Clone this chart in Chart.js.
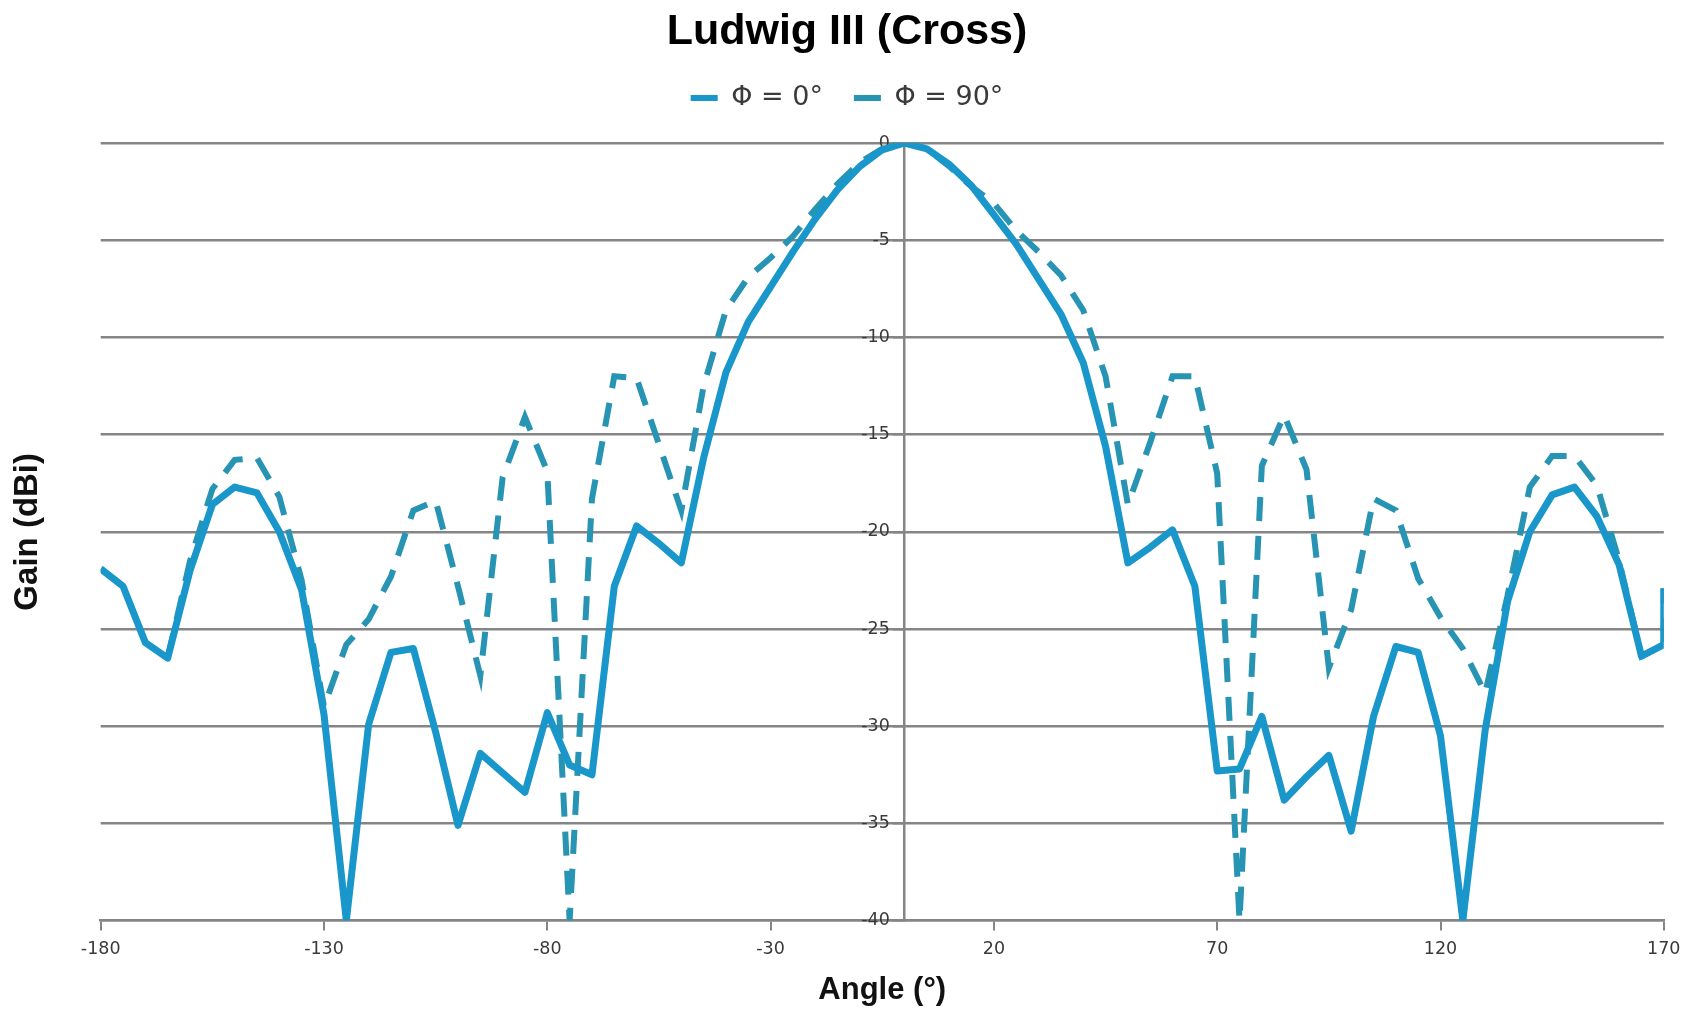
<!DOCTYPE html>
<html>
<head>
<meta charset="utf-8">
<script src="https://cdn.jsdelivr.net/npm/chart.js@4.4.1/dist/chart.umd.min.js"></script>
<style>
html,body{margin:0;padding:0;background:#ffffff;}
#wrap{position:relative;width:1694px;height:1010px;}
</style>
</head>
<body>
<div id="wrap"><canvas id="c" width="1694" height="1010"></canvas></div>
<script>
// ---- Data ----
const chartTitle = 'Ludwig III (Cross)';
const xAxisTitle = 'Angle (°)';
const yAxisTitle = 'Gain (dBi)';
const seriesNames = ['Φ = 0°', 'Φ = 90°'];

// Angle samples (deg). The last sample lies beyond the axis end and is drawn at the edge.
const angles = [
  -180, -175, -170, -165, -160, -155, -150, -145, -140, -135,
  -130, -125, -120, -115, -110, -105, -100, -95, -90, -85,
  -80, -75, -70, -65, -60, -55, -50, -45, -40, -35,
  -30, -25, -20, -15, -10, -5, 0, 5, 10, 15,
  20, 25, 30, 35, 40, 45, 50, 55, 60, 65,
  70, 75, 80, 85, 90, 95, 100, 105, 110, 115,
  120, 125, 130, 135, 140, 145, 150, 155, 160, 165,
  170, 175
];

const gainPhi0 = [
  -21.9, -22.8, -25.7, -26.5, -22.0, -18.6, -17.7, -18.0, -20.0, -23.0,
  -29.4, -40.0, -29.9, -26.2, -26.0, -30.3, -35.1, -31.4, -32.4, -33.4,
  -29.3, -32.0, -32.5, -22.8, -19.7, -20.6, -21.6, -16.2, -11.8, -9.2,
  -7.4, -5.6, -3.9, -2.4, -1.2, -0.35, 0.0, -0.3, -1.1, -2.2,
  -3.7, -5.2, -7.0, -8.8, -11.3, -15.6, -21.6, -20.8, -19.9, -22.8,
  -32.3, -32.2, -29.5, -33.8, -32.6, -31.5, -35.4, -29.5, -25.9, -26.2,
  -30.5, -40.0, -30.2, -23.6, -20.0, -18.1, -17.7, -19.2, -21.7, -26.4,
  -25.8, -22.9
];

const gainPhi90 = [
  -21.9, -22.8, -25.7, -26.5, -21.5, -17.8, -16.3, -16.2, -18.2, -22.5,
  -29.0, -25.8, -24.5, -22.3, -18.9, -18.4, -22.8, -27.4, -17.2, -14.1,
  -16.9, -40.0, -18.3, -12.0, -12.1, -15.5, -18.9, -12.5, -8.6, -6.9,
  -5.9, -4.8, -3.4, -2.1, -1.0, -0.3, 0.0, -0.3, -1.2, -2.25,
  -3.1, -4.5, -5.6, -6.8, -8.6, -12.0, -18.6, -15.4, -12.0, -12.0,
  -17.0, -40.0, -16.6, -14.0, -16.8, -27.0, -24.0, -18.3, -18.9, -22.4,
  -24.4, -26.0, -28.3, -23.3, -17.7, -16.1, -16.1, -17.6, -21.5, -26.4,
  -25.8, -22.9
];

const xTickValues = [-180, -130, -80, -30, 20, 70, 120, 170];
const yTickValues = [0, -5, -10, -15, -20, -25, -30, -35, -40];
const X_MIN = -180, X_MAX = 170, Y_MIN = -40, Y_MAX = 0;

// ---- Styling / layout ----
const colorPhi0 = '#1996ca';
const colorPhi90 = '#2894b3';
const gridColor = '#858585';
const tickColor = '#3a3a3a';
const sansBold = '"Liberation Sans", Arial, sans-serif';
const sansTick = '"DejaVu Sans", Verdana, sans-serif';
const Y_LABEL_ANCHOR = -3.3;     // y tick labels sit just left of the 0° axis line
const LEFT_AREA = 100.7, RIGHT_AREA = 30.2, TOP_GAP = 21.5;

// Out-of-range samples are drawn at the plot edge (as in the source chart)
const toPoints = vals => angles.map((a, i) => ({
  x: Math.min(Math.max(a, X_MIN), X_MAX),
  y: Math.min(Math.max(vals[i], Y_MIN), Y_MAX)
}));

const legendLabels = (chart) => {
  const items = Chart.defaults.plugins.legend.labels.generateLabels(chart);
  items.forEach(it => {
    const ds = chart.data.datasets[it.datasetIndex];
    it.fillStyle = ds.borderColor;
    it.strokeStyle = ds.borderColor;
    it.lineWidth = 0;
    it.lineDash = [];
  });
  items.sort((a, b) => a.datasetIndex - b.datasetIndex);
  return items;
};

const hiddenAxisBase = {
  type: 'linear',
  display: true,
  ticks: { display: false },
  grid: { display: false, drawTicks: false, drawOnChartArea: false },
  border: { display: false }
};

new Chart(document.getElementById('c'), {
  type: 'line',
  data: {
    datasets: [
      {
        label: seriesNames[0],
        data: toPoints(gainPhi0),
        borderColor: colorPhi0,
        backgroundColor: colorPhi0,
        borderWidth: 7,
        pointRadius: 0,
        tension: 0,
        fill: false,
        borderJoinStyle: 'round'
      },
      {
        label: seriesNames[1],
        data: toPoints(gainPhi90),
        borderColor: colorPhi90,
        backgroundColor: colorPhi90,
        borderWidth: 6,
        borderDash: [24, 15],
        pointRadius: 0,
        tension: 0,
        fill: false
      }
    ]
  },
  options: {
    responsive: false,
    animation: false,
    devicePixelRatio: 1,
    layout: { padding: 0 },
    plugins: {
      title: {
        display: true,
        text: chartTitle,
        color: '#000000',
        font: { family: sansBold, size: 43, weight: 'bold', lineHeight: 1 },
        padding: { top: 10.5, bottom: 0 }
      },
      legend: {
        display: true,
        position: 'top',
        labels: {
          font: { family: sansTick, size: 27 },
          color: '#3a3a3a',
          boxWidth: 27,
          boxHeight: 6,
          padding: 31,
          generateLabels: legendLabels
        }
      },
      tooltip: { enabled: false }
    },
    scales: {
      x: {
        type: 'linear',
        position: 'bottom',
        min: X_MIN,
        max: X_MAX,
        afterBuildTicks: s => { s.ticks = xTickValues.map(v => ({ value: v })); },
        ticks: {
          autoSkip: false,
          maxRotation: 0,
          color: tickColor,
          font: { family: sansTick, size: 17.5 },
          padding: 8.5
        },
        grid: {
          display: true,
          drawOnChartArea: false,
          drawTicks: true,
          tickLength: 10,
          color: gridColor,
          lineWidth: 2
        },
        border: { display: true, color: gridColor, width: 2.5 },
        title: {
          display: true,
          text: xAxisTitle,
          color: '#111111',
          font: { family: sansBold, size: 31, weight: 'bold' },
          padding: { top: 3.5, bottom: 0.7 }
        }
      },
      y: {
        type: 'linear',
        axis: 'y',
        position: { x: 0 },
        min: Y_MIN,
        max: Y_MAX,
        afterBuildTicks: s => { s.ticks = yTickValues.map(v => ({ value: v })); },
        ticks: { display: false },
        grid: {
          display: true,
          drawOnChartArea: true,
          drawTicks: true,
          tickLength: 10,
          color: gridColor,
          lineWidth: 2.5
        },
        border: { display: true, color: gridColor, width: 2.5 }
      },
      yLabels: {
        type: 'linear',
        axis: 'y',
        position: { x: Y_LABEL_ANCHOR },
        min: Y_MIN,
        max: Y_MAX,
        afterBuildTicks: s => { s.ticks = yTickValues.map(v => ({ value: v })); },
        ticks: {
          display: true,
          color: tickColor,
          font: { family: sansTick, size: 17.5 },
          padding: 0
        },
        grid: { display: false, drawTicks: false, drawOnChartArea: false },
        border: { display: false }
      },
      yTitleAxis: Object.assign({}, hiddenAxisBase, {
        axis: 'y',
        position: 'left',
        afterFit: s => { s.width = LEFT_AREA; },
        title: {
          display: true,
          text: yAxisTitle,
          color: '#111111',
          font: { family: sansBold, size: 33, weight: 'bold' },
          padding: { top: 8.5, bottom: 0 }
        }
      }),
      rightPad: Object.assign({}, hiddenAxisBase, {
        axis: 'y',
        position: 'right',
        afterFit: s => { s.width = RIGHT_AREA; }
      }),
      topPad: Object.assign({}, hiddenAxisBase, {
        axis: 'x',
        position: 'top',
        afterFit: s => { s.height = TOP_GAP; }
      })
    }
  }
});
</script>
</body>
</html>
